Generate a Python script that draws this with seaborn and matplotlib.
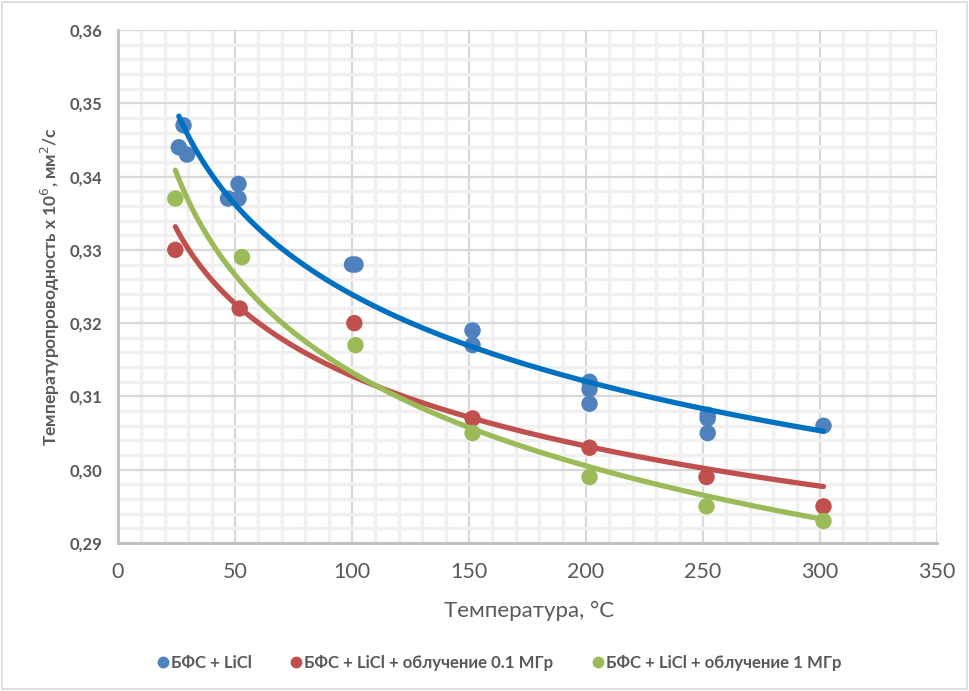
import numpy as np
import pandas as pd
import seaborn as sns
import matplotlib.pyplot as plt
from matplotlib.ticker import MultipleLocator, FuncFormatter
from matplotlib.patches import Rectangle
from matplotlib.lines import Line2D

series = ["БФС + LiCl", "БФС + LiCl + облучение 0.1 МГр", "БФС + LiCl + облучение 1 МГр"]
blue_x = [26, 28, 29.5, 47, 51.5, 51.5, 100, 101.5, 151.5, 151.5, 201.5, 201.5, 201.5, 252, 252, 252, 301.5]
blue_y = [0.344, 0.347, 0.343, 0.337, 0.339, 0.337, 0.328, 0.328, 0.319, 0.317, 0.312, 0.311, 0.309,
          0.3075, 0.307, 0.305, 0.306]
red_x = [24.5, 52, 101, 151.5, 201.5, 251.5, 301.5]
red_y = [0.330, 0.322, 0.320, 0.307, 0.303, 0.299, 0.295]
green_x = [24.5, 53, 101.5, 151.5, 201.5, 251.5, 301.5]
green_y = [0.337, 0.329, 0.317, 0.305, 0.299, 0.295, 0.293]

point_colors = ["#4f81bd", "#c0504d", "#9bbb59"]
line_colors = ["#0070c0", "#c0504d", "#9bbb59"]

sns.set_theme(style="white")
plt.rcParams['font.family'] = ['Lato', 'DejaVu Sans']

frames = []
for name, xs, ys in zip(series, [blue_x, red_x, green_x], [blue_y, red_y, green_y]):
    frames.append(pd.DataFrame({"x": xs, "y": ys, "s": name}))
df = pd.concat(frames, ignore_index=True)

# power trendlines (Excel-style, fit in log-log space)
curves = []
for name, xs, ys in zip(series, [blue_x, red_x, green_x], [blue_y, red_y, green_y]):
    b, loga = np.polyfit(np.log(xs), np.log(ys), 1)
    xx = np.linspace(min(xs), max(xs), 200)
    curves.append(pd.DataFrame({"x": xx, "y": np.exp(loga) * xx ** b, "s": name}))
cdf = pd.concat(curves, ignore_index=True)

fig = plt.figure(figsize=(9.69, 6.91), dpi=100)
ax = fig.add_axes([118 / 969, 1 - 543 / 691, (937 - 118) / 969, (543 - 30) / 691])

ax.set_xlim(0, 350)
ax.set_ylim(0.29, 0.36)
ax.xaxis.set_major_locator(MultipleLocator(50))
ax.xaxis.set_minor_locator(MultipleLocator(10))
ax.yaxis.set_major_locator(MultipleLocator(0.01))
ax.yaxis.set_minor_locator(MultipleLocator(0.002))
ax.grid(which="minor", color="#f0f0f0", lw=2.5, zorder=0)
ax.grid(which="major", color="#d9d9d9", lw=1.6, zorder=0)
ax.set_axisbelow(True)

sns.scatterplot(data=df, x="x", y="y", hue="s", palette=point_colors, s=140,
                edgecolor="none", ax=ax, legend=False, zorder=3)
sns.lineplot(data=cdf, x="x", y="y", hue="s", palette=line_colors, lw=3.8,
             ax=ax, legend=False, zorder=4, sort=False)

for sp in ["top", "right"]:
    ax.spines[sp].set_visible(False)
for sp in ["left", "bottom"]:
    ax.spines[sp].set_color("#bfbfbf")
    ax.spines[sp].set_linewidth(2)

ax.tick_params(which="major", direction="out", length=5, width=2, color="#bfbfbf")
ax.tick_params(which="minor", length=0)
ax.tick_params(axis="x", labelsize=15.5, labelcolor="#595959", pad=9)
ax.tick_params(axis="y", labelsize=12, labelcolor="#595959", pad=6)
ax.yaxis.set_major_formatter(FuncFormatter(lambda v, p: f"{v:.2f}".replace(".", ",")))
ax.xaxis.set_major_formatter(FuncFormatter(lambda v, p: f"{v:.0f}"))
for t in ax.get_yticklabels():
    t.set_fontweight("bold")

ax.set_xlabel("Температура, °С", fontsize=16, color="#595959", va="center")
ax.xaxis.set_label_coords(0.502, (543 - 611) / 513)
ax.set_ylabel("Температуропроводность х 10$^6$, мм$^2$/с", fontsize=12.5, color="#595959",
              fontweight="bold", labelpad=6)

handles = [Line2D([], [], marker="o", ls="none", markersize=7.5, color=c) for c in point_colors]
fig.legend(handles, series, loc="center", bbox_to_anchor=(499 / 969, 1 - 663 / 691), ncol=3,
           frameon=False, labelcolor="#595959", handlelength=0.75, handletextpad=0.12,
           columnspacing=2.25, prop={"weight": "bold", "size": 12.1})

fig.patches.append(Rectangle((2 / 969, 2 / 691), 1 - 4 / 969, 1 - 4 / 691, transform=fig.transFigure,
                             fill=False, edgecolor="#d9d9d9", lw=1.2))

fig.savefig("out.png", dpi=100)
